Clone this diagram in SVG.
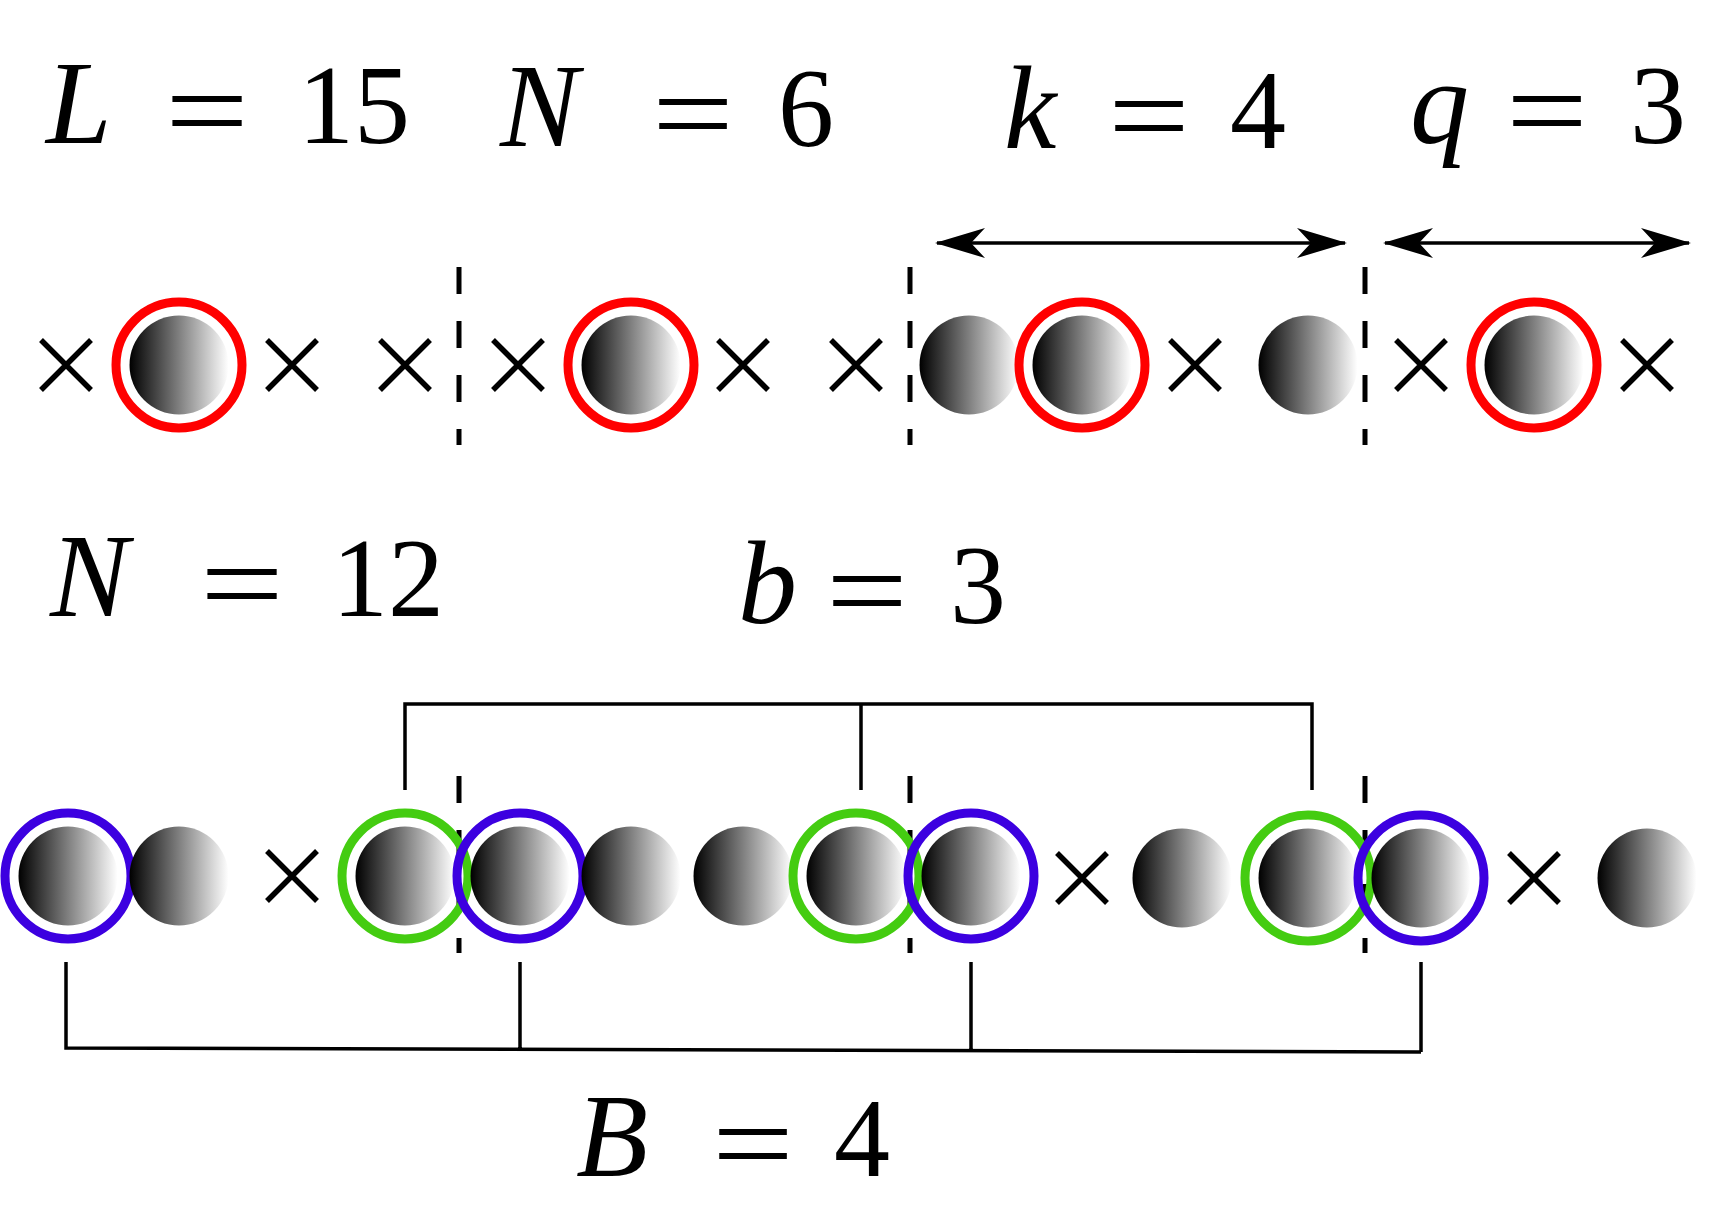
<svg xmlns="http://www.w3.org/2000/svg" width="1712" height="1220" viewBox="0 0 1712 1220">
<defs>
<linearGradient id="g" x1="0" y1="0" x2="1" y2="0"><stop offset="0" stop-color="#000"/><stop offset="1" stop-color="#fff"/></linearGradient>
<g id="ball"><circle r="49.5" fill="url(#g)"/></g>
<g id="x"><path d="M-25,-25L25,25M25,-25L-25,25" stroke="#000" stroke-width="5.5"/></g>
<marker id="ah" viewBox="0 0 50 30" refX="48" refY="15" markerWidth="50" markerHeight="30" markerUnits="userSpaceOnUse" orient="auto-start-reverse"><path d="M0,0L50,15L0,30L14,15Z" fill="#000"/></marker>
</defs>
<style>
.v{font-family:"Liberation Serif",serif;font-style:italic;font-size:118px}
.d{font-family:"Liberation Serif",serif;font-size:112px}
.e{font-family:"Liberation Serif",serif;font-size:118px}
.red{fill:none;stroke:#f00;stroke-width:9}
.blue{fill:none;stroke:#3c00e0;stroke-width:9}
.green{fill:none;stroke:#44cc11;stroke-width:9}
.ln{stroke:#000;stroke-width:3.5;fill:none}
.dash{stroke:#000;stroke-width:5;stroke-dasharray:27 27}
</style>
<g id="labels">
<text class="v" x="46" y="143">L</text><text class="e" x="165" y="151" textLength="84" lengthAdjust="spacingAndGlyphs">=</text><text class="d" x="298" y="143">15</text>
<text class="v" x="500" y="146">N</text><text class="e" x="652" y="154" textLength="82" lengthAdjust="spacingAndGlyphs">=</text><text class="d" x="778" y="146">6</text>
<text class="v" x="1004" y="148">k</text><text class="e" x="1108" y="156" textLength="82" lengthAdjust="spacingAndGlyphs">=</text><text class="d" x="1230" y="148">4</text>
<text class="v" x="1410" y="143">q</text><text class="e" x="1506" y="151" textLength="82" lengthAdjust="spacingAndGlyphs">=</text><text class="d" x="1630" y="143">3</text>
<text class="v" x="50" y="616">N</text><text class="e" x="200" y="624" textLength="84" lengthAdjust="spacingAndGlyphs">=</text><text class="d" x="332" y="616">12</text>
<text class="v" x="738" y="623">b</text><text class="e" x="826" y="631" textLength="82" lengthAdjust="spacingAndGlyphs">=</text><text class="d" x="950" y="623">3</text>
<text class="v" x="576" y="1176">B</text><text class="e" x="712" y="1184" textLength="82" lengthAdjust="spacingAndGlyphs">=</text><text class="d" x="834" y="1176">4</text>
</g>
<g id="connectors">
<line class="ln" x1="937" y1="243" x2="1345" y2="243" marker-start="url(#ah)" marker-end="url(#ah)"/>
<line class="ln" x1="1385" y1="243" x2="1689" y2="243" marker-start="url(#ah)" marker-end="url(#ah)"/>
<line class="dash" x1="459" y1="267" x2="459" y2="445"/>
<line class="dash" x1="910" y1="267" x2="910" y2="445"/>
<line class="dash" x1="1365" y1="267" x2="1365" y2="445"/>
<line class="dash" x1="459" y1="776" x2="459" y2="953"/>
<line class="dash" x1="910" y1="776" x2="910" y2="953"/>
<line class="dash" x1="1365" y1="776" x2="1365" y2="953"/>
<path class="ln" d="M405,790V704H1312V790M861,704V790"/>
<path class="ln" d="M66,962V1048L1421,1052M520,962V1049M971,962V1050M1421,962V1052"/>
</g>
<g id="row1">
<use href="#x" x="66" y="365"/>
<use href="#ball" x="179" y="365"/><circle class="red" cx="179" cy="365" r="63"/>
<use href="#x" x="292" y="365"/><use href="#x" x="405" y="365"/><use href="#x" x="518" y="365"/>
<use href="#ball" x="631" y="365"/><circle class="red" cx="631" cy="365" r="63"/>
<use href="#x" x="743" y="365"/><use href="#x" x="856" y="365"/>
<use href="#ball" x="969" y="365"/>
<use href="#ball" x="1082" y="365"/><circle class="red" cx="1082" cy="365" r="63"/>
<use href="#x" x="1195" y="365"/>
<use href="#ball" x="1308" y="365"/>
<use href="#x" x="1421" y="365"/>
<use href="#ball" x="1534" y="365"/><circle class="red" cx="1534" cy="365" r="63"/>
<use href="#x" x="1647" y="365"/>
</g>
<g id="row2">
<use href="#ball" x="68" y="876"/><circle class="blue" cx="68" cy="876" r="63"/>
<use href="#ball" x="179" y="876"/>
<use href="#x" x="292" y="876"/>
<use href="#ball" x="405" y="876"/><circle class="green" cx="405" cy="876" r="63"/>
<use href="#ball" x="520" y="876"/><circle class="blue" cx="520" cy="876" r="63"/>
<use href="#ball" x="631" y="876"/>
<use href="#ball" x="743" y="876"/>
<use href="#ball" x="856" y="876"/><circle class="green" cx="856" cy="876" r="63"/>
<use href="#ball" x="971" y="876"/><circle class="blue" cx="971" cy="876" r="63"/>
<use href="#x" x="1082" y="878"/>
<use href="#ball" x="1182" y="878"/>
<use href="#ball" x="1308" y="878"/><circle class="green" cx="1308" cy="878" r="63"/>
<use href="#ball" x="1421" y="878"/><circle class="blue" cx="1421" cy="878" r="63"/>
<use href="#x" x="1534" y="878"/>
<use href="#ball" x="1647" y="878"/>
</g>
</svg>
